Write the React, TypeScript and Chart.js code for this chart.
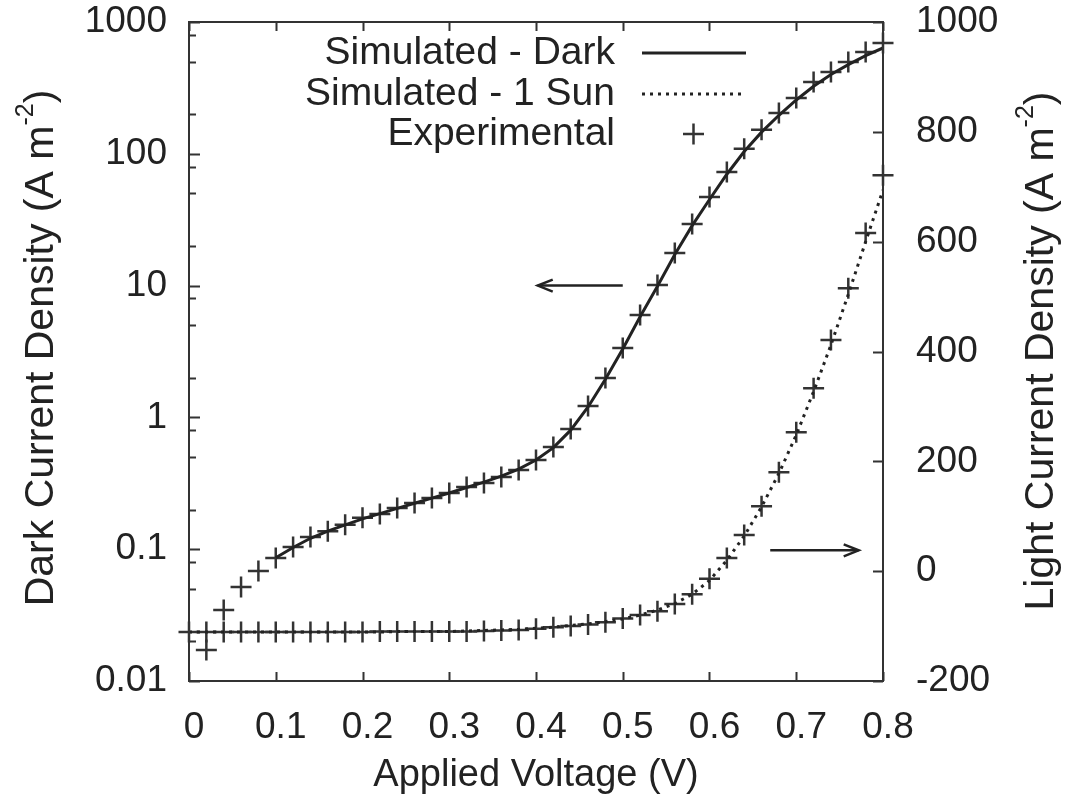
import React, { useEffect, useRef } from "react";
import { Chart, registerables } from "chart.js";

Chart.register(...registerables);

// ---------- data ----------
const expDarkV = [0.02, 0.04, 0.06, 0.08, 0.1, 0.12, 0.14, 0.16, 0.18, 0.2, 0.22, 0.24, 0.26, 0.28, 0.3, 0.32, 0.34, 0.36, 0.38, 0.4, 0.42, 0.44, 0.46, 0.48, 0.5, 0.52, 0.54, 0.56, 0.58, 0.6, 0.62, 0.64, 0.66, 0.68, 0.7, 0.72, 0.74, 0.76, 0.78, 0.8];
const expDarkJ = [0.0172, 0.0346, 0.0516, 0.0684, 0.0858, 0.104, 0.124, 0.137, 0.153, 0.173, 0.185, 0.205, 0.224, 0.245, 0.267, 0.296, 0.318, 0.353, 0.399, 0.475, 0.596, 0.816, 1.22, 1.99, 3.36, 5.98, 10.1, 17.7, 29.3, 47.0, 72.8, 109, 152, 204, 265, 351, 418, 498, 592, 693];

const simDarkV = [0.1, 0.12, 0.14, 0.16, 0.18, 0.2, 0.22, 0.24, 0.26, 0.28, 0.3, 0.32, 0.34, 0.36, 0.38, 0.4, 0.42, 0.44, 0.46, 0.48, 0.5, 0.52, 0.54, 0.56, 0.58, 0.6, 0.62, 0.64, 0.66, 0.68, 0.7, 0.72, 0.74, 0.76, 0.78, 0.8];
const simDarkJ = [0.086, 0.103, 0.121, 0.137, 0.153, 0.17, 0.186, 0.204, 0.223, 0.244, 0.267, 0.294, 0.323, 0.358, 0.405, 0.475, 0.59, 0.8, 1.2, 1.95, 3.3, 5.8, 9.9, 17.2, 28.5, 45, 70, 104, 146, 196, 256, 325, 400, 475, 555, 635];

const lightV = [0, 0.02, 0.04, 0.06, 0.08, 0.1, 0.12, 0.14, 0.16, 0.18, 0.2, 0.22, 0.24, 0.26, 0.28, 0.3, 0.32, 0.34, 0.36, 0.38, 0.4, 0.42, 0.44, 0.46, 0.48, 0.5, 0.52, 0.54, 0.56, 0.58, 0.6, 0.62, 0.64, 0.66, 0.68, 0.7, 0.72, 0.74, 0.76, 0.78, 0.8];
const expLightJ = [-111, -111, -111, -111, -111, -111, -111, -111, -111, -111, -111, -110, -110, -110, -110, -110, -110, -109, -108, -107, -105, -102, -100, -97, -93, -86, -80, -73, -60, -42, -14, 24, 66, 118, 180, 253, 333, 421, 515, 616, 721];
const simLightJ = [-111, -111, -111, -111, -111, -111, -111, -111, -111, -111, -111, -111, -110, -110, -110, -110, -109, -108, -107, -106, -104, -102, -99, -96, -92, -87, -80, -71, -59, -42, -17, 20, 64, 117, 178, 248, 327, 412, 504, 600, 694];

const xTicks = [0, 0.1, 0.2, 0.3, 0.4, 0.5, 0.6, 0.7, 0.8];
const xTickLabels = ["0", "0.1", "0.2", "0.3", "0.4", "0.5", "0.6", "0.7", "0.8"];
const leftTicks = [0.01, 0.1, 1, 10, 100, 1000];
const leftTickLabels = ["0.01", "0.1", "1", "10", "100", "1000"];
const leftMinorMult = [2, 5, 8];
const rightTicks = [-200, 0, 200, 400, 600, 800, 1000];
const rightTickLabels = ["-200", "0", "200", "400", "600", "800", "1000"];

const legendLabels = ["Simulated - Dark", "Simulated - 1 Sun", "Experimental"];
const xTitle = "Applied Voltage (V)";
const leftTitle = ["Dark Current Density (A m", "-2", ")"];
const rightTitle = ["Light Current Density (A m", "-2", ")"];

// ---------- style ----------
const FONT = '"Liberation Sans", Arial, Helvetica, sans-serif';
const INK = "#222";
const TICK_SIZE = 37;

function drawSupText(ctx: CanvasRenderingContext2D, parts: string[], size: number, cx: number, cy: number) {
  const mainFont = `${size}px ${FONT}`;
  const supFont = `${Math.round(size * 0.62)}px ${FONT}`;
  ctx.font = mainFont;
  const w0 = ctx.measureText(parts[0]).width;
  const w2 = ctx.measureText(parts[2]).width;
  ctx.font = supFont;
  const w1 = ctx.measureText(parts[1]).width;
  const total = w0 + w1 + w2;
  let x = cx - total / 2;
  ctx.textAlign = "left";
  ctx.textBaseline = "middle";
  ctx.font = mainFont;
  ctx.fillText(parts[0], x, cy);
  x += w0;
  ctx.font = supFont;
  ctx.fillText(parts[1], x, cy - size * 0.38);
  x += w1;
  ctx.font = mainFont;
  ctx.fillText(parts[2], x, cy);
}

function drawArrow(ctx: CanvasRenderingContext2D, x0: number, x1: number, y: number) {
  const dir = x1 > x0 ? 1 : -1;
  ctx.beginPath();
  ctx.moveTo(x0, y);
  ctx.lineTo(x1, y);
  ctx.stroke();
  ctx.beginPath();
  ctx.moveTo(x1 - dir * 15, y - 6);
  ctx.lineTo(x1, y);
  ctx.lineTo(x1 - dir * 15, y + 6);
  ctx.stroke();
}

const decoPlugin = {
  id: "deco",
  afterDraw(chart: any) {
    const ctx: CanvasRenderingContext2D = chart.ctx;
    const { left, right, top, bottom } = chart.chartArea;
    const xs = chart.scales.x;
    const yl = chart.scales.yL;
    const yr = chart.scales.yR;
    ctx.save();
    ctx.strokeStyle = "#333";
    ctx.lineWidth = 2;
    ctx.strokeRect(left, top, right - left, bottom - top);
    ctx.beginPath();
    xTicks.forEach((v) => {
      const px = Math.round(xs.getPixelForValue(v)) + 0.5;
      ctx.moveTo(px, bottom);
      ctx.lineTo(px, bottom - 9);
      ctx.moveTo(px, top);
      ctx.lineTo(px, top + 9);
    });
    leftTicks.forEach((v) => {
      const py = Math.round(yl.getPixelForValue(v)) + 0.5;
      ctx.moveTo(left, py);
      ctx.lineTo(left + 11, py);
    });
    leftTicks.slice(0, -1).forEach((d) => {
      leftMinorMult.forEach((m) => {
        const py = Math.round(yl.getPixelForValue(d * m)) + 0.5;
        ctx.moveTo(left, py);
        ctx.lineTo(left + 7, py);
      });
    });
    rightTicks.forEach((v) => {
      const py = Math.round(yr.getPixelForValue(v)) + 0.5;
      ctx.moveTo(right, py);
      ctx.lineTo(right - 10, py);
    });
    ctx.stroke();

    // titles
    ctx.fillStyle = INK;
    ctx.font = `38px ${FONT}`;
    ctx.textAlign = "center";
    ctx.textBaseline = "middle";
    ctx.fillText(xTitle, (left + right) / 2, 776);

    ctx.save();
    ctx.translate(42, 348);
    ctx.rotate(-Math.PI / 2);
    drawSupText(ctx, leftTitle, 41, 0, 0);
    ctx.restore();

    ctx.save();
    ctx.translate(1042, 351);
    ctx.rotate(-Math.PI / 2);
    drawSupText(ctx, rightTitle, 41, 0, 0);
    ctx.restore();

    // legend
    ctx.font = `39px ${FONT}`;
    ctx.textAlign = "right";
    ctx.textBaseline = "middle";
    const legY = [53, 94, 134];
    legendLabels.forEach((t, i) => ctx.fillText(t, 615, legY[i]));
    ctx.strokeStyle = INK;
    ctx.lineWidth = 3;
    ctx.beginPath();
    ctx.moveTo(642, legY[0]);
    ctx.lineTo(746, legY[0]);
    ctx.stroke();
    ctx.setLineDash([3, 5]);
    ctx.beginPath();
    ctx.moveTo(642, legY[1]);
    ctx.lineTo(746, legY[1]);
    ctx.stroke();
    ctx.setLineDash([]);
    ctx.strokeStyle = "#333";
    ctx.lineWidth = 2.5;
    ctx.beginPath();
    ctx.moveTo(683, legY[2]);
    ctx.lineTo(704, legY[2]);
    ctx.moveTo(693.5, legY[2] - 10.5);
    ctx.lineTo(693.5, legY[2] + 10.5);
    ctx.stroke();

    // arrows
    ctx.strokeStyle = INK;
    ctx.lineWidth = 2.5;
    drawArrow(ctx, xs.getPixelForValue(0.5), xs.getPixelForValue(0.402), yl.getPixelForValue(10));
    drawArrow(ctx, xs.getPixelForValue(0.67), xs.getPixelForValue(0.772), yr.getPixelForValue(38));
    ctx.restore();
  },
};

function zeroPad(s: any) {
  s.paddingTop = 0;
  s.paddingBottom = 0;
  s.paddingLeft = 0;
  s.paddingRight = 0;
}

export default function App() {
  const ref = useRef<HTMLCanvasElement | null>(null);
  useEffect(() => {
    if (!ref.current) return;
    const tickFont = { family: FONT, size: TICK_SIZE, lineHeight: 1 };
    const chart = new Chart(ref.current, {
      type: "scatter",
      data: {
        datasets: [
          {
            label: legendLabels[0],
            data: simDarkV.map((v, i) => ({ x: v, y: simDarkJ[i] })),
            yAxisID: "yL",
            showLine: true,
            borderColor: INK,
            borderWidth: 3,
            pointRadius: 0,
            tension: 0,
          },
          {
            label: legendLabels[1],
            data: lightV.map((v, i) => ({ x: v, y: simLightJ[i] })),
            yAxisID: "yR",
            showLine: true,
            borderColor: INK,
            borderWidth: 3,
            borderDash: [3, 5],
            pointRadius: 0,
            tension: 0,
          },
          {
            label: legendLabels[2],
            data: expDarkV.map((v, i) => ({ x: v, y: expDarkJ[i] })),
            yAxisID: "yL",
            showLine: false,
            pointStyle: "cross",
            pointRadius: 10.5,
            pointBorderWidth: 2.5,
            pointBorderColor: "#333",
            clip: false,
          },
          {
            label: legendLabels[2] + " (1 Sun)",
            data: lightV.map((v, i) => ({ x: v, y: expLightJ[i] })),
            yAxisID: "yR",
            showLine: false,
            pointStyle: "cross",
            pointRadius: 10.5,
            pointBorderWidth: 2.5,
            pointBorderColor: "#333",
            clip: false,
          },
        ],
      },
      options: {
        responsive: false,
        animation: false,
        layout: { padding: { top: 22, left: 0, right: 0, bottom: 0 }, autoPadding: false },
        plugins: { legend: { display: false }, tooltip: { enabled: false } },
        scales: {
          x: {
            type: "linear",
            position: "bottom",
            min: 0,
            max: 0.8,
            grid: { display: false, drawTicks: false },
            border: { display: false },
            afterBuildTicks: (s: any) => {
              s.ticks = xTicks.map((v) => ({ value: v }));
            },
            afterFit: (s: any) => {
              s.height = 125;
              zeroPad(s);
            },
            ticks: {
              font: tickFont,
              color: INK,
              padding: 28,
              labelOffset: 5,
              maxRotation: 0,
              autoSkip: false,
              callback: (_v: any, i: number) => xTickLabels[i],
            },
          },
          yL: {
            type: "logarithmic",
            position: "left",
            min: 0.01,
            max: 1000,
            grid: { display: false, drawTicks: false },
            border: { display: false },
            afterBuildTicks: (s: any) => {
              s.ticks = leftTicks.map((v) => ({ value: v, major: true }));
            },
            afterFit: (s: any) => {
              s.width = 189;
              zeroPad(s);
            },
            ticks: {
              font: tickFont,
              color: INK,
              padding: 22,
              autoSkip: false,
              callback: (_v: any, i: number) => leftTickLabels[i],
            },
          },
          yR: {
            type: "linear",
            position: "right",
            min: -200,
            max: 1000,
            grid: { display: false, drawTicks: false },
            border: { display: false },
            afterBuildTicks: (s: any) => {
              s.ticks = rightTicks.map((v) => ({ value: v }));
            },
            afterFit: (s: any) => {
              s.width = 185;
              zeroPad(s);
            },
            ticks: {
              font: tickFont,
              color: INK,
              padding: 33,
              autoSkip: false,
              callback: (_v: any, i: number) => rightTickLabels[i],
            },
          },
        },
      },
      plugins: [decoPlugin],
    } as any);
    return () => chart.destroy();
  }, []);
  return (
    <div style={{ position: "absolute", left: 0, top: 0, width: 1068, height: 806, background: "#fff" }}>
      <canvas ref={ref} width={1068} height={806} />
    </div>
  );
}
